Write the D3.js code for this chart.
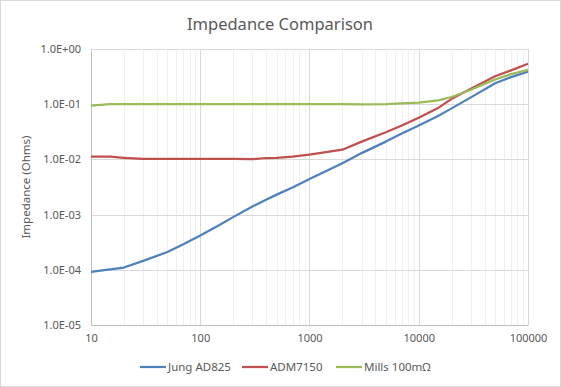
<!DOCTYPE html>
<html>
<head>
<meta charset="utf-8">
<script src="https://cdn.jsdelivr.net/npm/d3@7"></script>
<style>
  body { margin: 0; background: #fff; }
  svg { display: block; font-family: "Noto Sans", "Open Sans", sans-serif; }
</style>
</head>
<body>
<svg id="chart" width="561" height="387"></svg>
<script>
// frequency points (Hz)
const freqs = [10, 15, 20, 30, 50, 70, 100, 150, 200, 300, 400, 500, 700, 1000, 2000, 3000, 5000, 7000, 10000, 15000, 20000, 30000, 50000, 70000, 100000];

const jungAD825 = [9.2e-5, 1.02e-4, 1.1e-4, 1.45e-4, 2.1e-4, 2.9e-4, 4.2e-4, 6.5e-4, 9e-4, 1.4e-3, 1.85e-3, 2.3e-3, 3.1e-3, 4.4e-3, 8.5e-3, 1.3e-2, 2.1e-2, 2.95e-2, 4.1e-2, 6.1e-2, 8.4e-2, 1.33e-1, 2.4e-1, 3.1e-1, 3.9e-1];
const adm7150 = [0.0112, 0.0112, 0.0107, 0.0102, 0.0102, 0.0102, 0.0102, 0.0102, 0.0102, 0.0101, 0.0106, 0.0107, 0.0112, 0.0122, 0.015, 0.021, 0.031, 0.041, 0.057, 0.085, 0.125, 0.19, 0.32, 0.41, 0.54];
const mills100m = [0.094, 0.1, 0.1, 0.1, 0.1, 0.1, 0.1, 0.1, 0.1, 0.1, 0.1, 0.1, 0.1, 0.1, 0.1, 0.099, 0.1, 0.103, 0.107, 0.117, 0.135, 0.183, 0.28, 0.35, 0.42];

const seriesNames = ["Jung AD825", "ADM7150", "Mills 100m\u03A9"];
const seriesColors = ["#4F81BD", "#C0504D", "#9BBB59"];
const xTicks = [10, 100, 1000, 10000, 100000];
const yTicks = [1e-5, 1e-4, 1e-3, 1e-2, 1e-1, 1];

const svg = d3.select("#chart");
const W = 561, H = 387;
const margin = { top: 49, right: 33, bottom: 62, left: 91 };
const width = W - margin.left - margin.right;
const height = H - margin.top - margin.bottom;

// outer frame
svg.append("rect")
  .attr("x", 0.5).attr("y", 0.5)
  .attr("width", W - 1).attr("height", H - 1)
  .attr("fill", "#fff").attr("stroke", "#d9d9d9");

svg.append("text")
  .attr("x", 280).attr("y", 30)
  .attr("text-anchor", "middle")
  .attr("font-size", 16.5)
  .attr("fill", "#595959")
  .text("Impedance Comparison");

const x = d3.scaleLog().domain([10, 100000]).range([0, width]);
const y = d3.scaleLog().domain([1e-5, 1]).range([height, 0]);

const g = svg.append("g")
  .attr("transform", `translate(${margin.left}, ${margin.top})`);

// minor vertical grid
let minor = [];
for (let d = 10; d < 100000; d *= 10) {
  for (let k = 2; k <= 9; k++) minor.push(d * k);
}
g.selectAll(".minor").data(minor).enter().append("line")
  .attr("x1", d => Math.round(x(d)) + 0.5).attr("x2", d => Math.round(x(d)) + 0.5)
  .attr("y1", 0).attr("y2", height)
  .attr("stroke", "#f0f0f0");

// major grid
g.selectAll(".vmajor").data(xTicks).enter().append("line")
  .attr("x1", d => Math.round(x(d)) + 0.5).attr("x2", d => Math.round(x(d)) + 0.5)
  .attr("y1", 0).attr("y2", height)
  .attr("stroke", "#d9d9d9");
g.selectAll(".hmajor").data(yTicks).enter().append("line")
  .attr("x1", 0).attr("x2", width)
  .attr("y1", d => Math.round(y(d)) + 0.5).attr("y2", d => Math.round(y(d)) + 0.5)
  .attr("stroke", "#d9d9d9");

// axes
const yAxis = g.append("g")
  .call(d3.axisLeft(y).tickValues(yTicks).tickSize(0).tickPadding(10)
    .tickFormat(d => d3.format(".1e")(d).toUpperCase().replace(/E([+-])(\d)$/, "E$10$2")));
const xAxis = g.append("g")
  .attr("transform", `translate(0, ${height})`)
  .call(d3.axisBottom(x).tickValues(xTicks).tickSize(0).tickPadding(9)
    .tickFormat(d3.format("d")));
[xAxis, yAxis].forEach(a => {
  a.select(".domain").attr("stroke", "#bfbfbf");
  a.selectAll("text").attr("font-size", 11).attr("fill", "#595959")
    .attr("font-family", "\"Noto Sans\", sans-serif");
});

svg.append("text")
  .attr("transform", `translate(30, ${margin.top + height / 2}) rotate(-90)`)
  .attr("text-anchor", "middle")
  .attr("font-size", 11.5)
  .attr("fill", "#595959")
  .text("Impedance (Ohms)");

// series lines
const line = d3.line()
  .x((d, i) => x(freqs[i]))
  .y(d => y(d));

[jungAD825, adm7150, mills100m].forEach((s, i) => {
  g.append("path")
    .attr("fill", "none")
    .attr("stroke", seriesColors[i])
    .attr("stroke-width", 2.25)
    .attr("stroke-linejoin", "round")
    .attr("d", line(s));
});

// legend
const legendX = [140, 242, 336];
seriesNames.forEach((n, i) => {
  const lg = svg.append("g").attr("transform", `translate(${legendX[i]}, 367)`);
  lg.append("line").attr("x1", 0).attr("x2", 26).attr("y1", 0).attr("y2", 0)
    .attr("stroke", seriesColors[i]).attr("stroke-width", 2.25);
  lg.append("text").attr("x", 28).attr("y", 4)
    .attr("font-size", 11.5).attr("fill", "#595959").text(n);
});
</script>
</body>
</html>
